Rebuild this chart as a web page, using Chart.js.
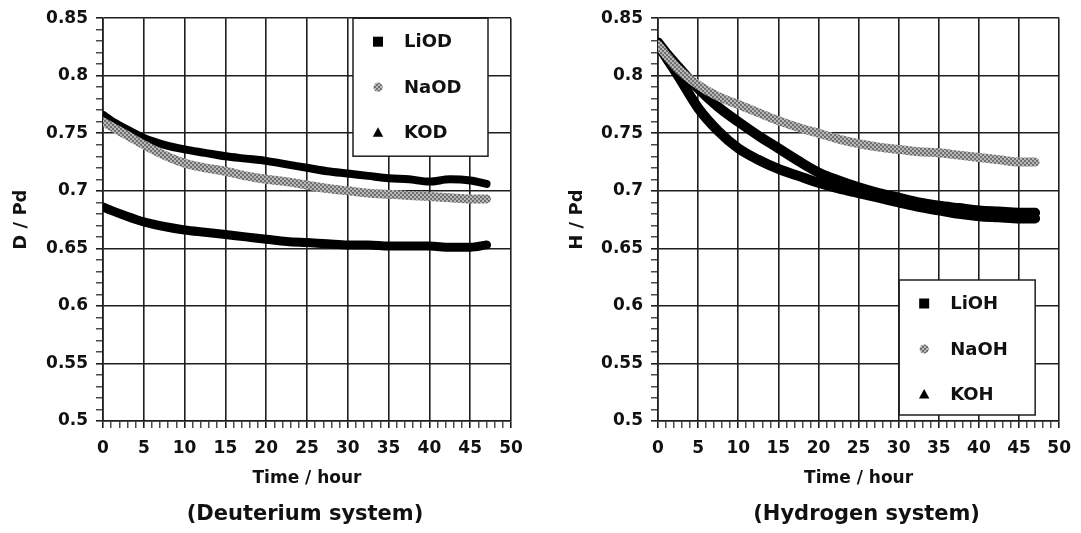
<!DOCTYPE html>
<html>
<head>
<meta charset="utf-8">
<script src="https://cdn.jsdelivr.net/npm/chart.js@4.4.1/dist/chart.umd.min.js"></script>
<style>
  html, body { margin: 0; padding: 0; background: #fff; }
  #wrap { position: relative; width: 1081px; height: 533px; }
  #left { position: absolute; left: 0; top: 0; }
  #right { position: absolute; left: 540px; top: 0; }
</style>
</head>
<body>
<div id="wrap">
  <canvas id="left" width="540" height="533"></canvas>
  <canvas id="right" width="541" height="533"></canvas>
</div>
<script>
// time axis (hours) shared by the read-off points
const timeD = [0, 1, 2.5, 5, 7.5, 10, 12.5, 15, 17.5, 20, 22.5, 25, 27.5, 30, 32.5, 35, 37.5, 40, 42.5, 45, 47];
const timeH = [0, 1, 2.5, 5, 7.5, 10, 12.5, 15, 17.5, 20, 22.5, 25, 27.5, 30, 32.5, 35, 37.5, 40, 42.5, 45, 47];

// Deuterium system, D/Pd
const liod = [0.686, 0.683, 0.679, 0.673, 0.669, 0.666, 0.664, 0.662, 0.660, 0.658, 0.656, 0.655, 0.654, 0.653, 0.653, 0.652, 0.652, 0.652, 0.651, 0.651, 0.653];
const naod = [0.760, 0.756, 0.750, 0.740, 0.731, 0.724, 0.720, 0.717, 0.713, 0.710, 0.708, 0.705, 0.702, 0.700, 0.698, 0.697, 0.696, 0.695, 0.694, 0.693, 0.693];
const kod  = [0.766, 0.761, 0.755, 0.746, 0.740, 0.736, 0.733, 0.730, 0.728, 0.726, 0.723, 0.720, 0.717, 0.715, 0.713, 0.711, 0.710, 0.708, 0.710, 0.709, 0.706];

// Hydrogen system, H/Pd
const lioh = [0.829, 0.820, 0.808, 0.789, 0.773, 0.760, 0.748, 0.737, 0.726, 0.716, 0.709, 0.703, 0.698, 0.694, 0.690, 0.687, 0.685, 0.683, 0.682, 0.681, 0.681];
const naoh = [0.827, 0.818, 0.806, 0.792, 0.782, 0.775, 0.768, 0.761, 0.755, 0.750, 0.745, 0.741, 0.738, 0.736, 0.734, 0.733, 0.731, 0.729, 0.727, 0.725, 0.725];
const koh  = [0.827, 0.816, 0.800, 0.772, 0.752, 0.737, 0.727, 0.719, 0.713, 0.707, 0.702, 0.698, 0.694, 0.690, 0.686, 0.683, 0.680, 0.678, 0.677, 0.676, 0.676];

const ink = '#1e1e1e';
const fam = '"DejaVu Sans", sans-serif';
Chart.defaults.font.family = fam;

// grey speckled fill like the scanned NaOD / NaOH marks
function greyTexture() {
  const c = document.createElement('canvas');
  c.width = 4; c.height = 4;
  const g = c.getContext('2d');
  g.fillStyle = '#b8b8b8'; g.fillRect(0, 0, 4, 4);
  g.fillStyle = '#707070';
  g.fillRect(0, 0, 2, 2); g.fillRect(2, 2, 2, 2);
  return g.createPattern(c, 'repeat');
}
const grey = greyTexture();

const pts = (t, v) => t.map((x, i) => ({ x, y: v[i] }));

function series(label, t, v, color, width, marker, order) {
  return {
    label, data: pts(t, v), marker, markerColor: color, order,
    showLine: true, borderColor: color, borderWidth: width,
    borderCapStyle: 'round', borderJoinStyle: 'round',
    cubicInterpolationMode: 'monotone', pointRadius: 0, pointHoverRadius: 0
  };
}

function drawMarker(ctx, kind, color, x, y) {
  ctx.fillStyle = color;
  ctx.beginPath();
  if (kind === 'rect') ctx.rect(x - 5, y - 5, 10, 10);
  else if (kind === 'circle') ctx.arc(x, y, 4.6, 0, Math.PI * 2);
  else { ctx.moveTo(x, y - 5.5); ctx.lineTo(x + 5.2, y + 4); ctx.lineTo(x - 5.2, y + 4); ctx.closePath(); }
  ctx.fill();
}

// framed legend sitting inside the plot
const boxLegend = {
  id: 'boxLegend',
  afterDatasetsDraw(chart, args, o) {
    const { ctx, chartArea: a } = chart;
    const x = a.right - o.right - o.width;
    const y = o.top != null ? a.top + o.top : a.bottom - o.bottom - o.height;
    ctx.save();
    ctx.fillStyle = '#fff';
    ctx.fillRect(x, y, o.width, o.height);
    ctx.lineWidth = 1.5;
    ctx.strokeStyle = ink;
    ctx.strokeRect(x, y, o.width, o.height);
    ctx.font = 'bold 18px ' + fam;
    ctx.textBaseline = 'middle';
    chart.data.datasets.forEach((ds, i) => {
      const cy = y + 23.5 + i * 45.5;
      drawMarker(ctx, ds.marker, ds.markerColor, x + 25, cy);
      ctx.fillStyle = '#111';
      ctx.fillText(ds.label, x + 51, cy + 1);
    });
    ctx.restore();
  }
};

// caption centred under the plot area
const caption = {
  id: 'caption',
  afterDraw(chart, args, o) {
    const { ctx, chartArea: a } = chart;
    ctx.save();
    ctx.font = 'bold 21px ' + fam;
    ctx.fillStyle = '#111';
    ctx.textAlign = 'center';
    ctx.textBaseline = 'middle';
    ctx.fillText(o.text, (a.left + a.right) / 2 + o.dx, chart.height - o.bottom);
    ctx.restore();
  }
};

function makeOptions(yTitle, yTitlePad, yWidth, captionText, captionDx, padRight, legendBox) {
  const major = c => c.tick && Math.round(c.tick.value * 100) % 5 === 0;
  return {
    responsive: false,
    animation: false,
    events: [],
    layout: { padding: { top: 17, right: padRight, left: 0, bottom: 44 } },
    scales: {
      x: {
        type: 'linear', min: 0, max: 50,
        ticks: {
          stepSize: 1, maxTicksLimit: 100, autoSkip: false, maxRotation: 0, padding: 10,
          color: '#111', font: { size: 17, weight: 'bold' },
          callback: v => v % 5 === 0 ? String(v) : ''
        },
        grid: {
          color: c => c.tick && c.tick.value % 5 === 0 ? ink : 'rgba(0,0,0,0)',
          lineWidth: 1.6, tickLength: 7, tickColor: ink,
          tickWidth: c => c.tick && c.tick.value % 5 === 0 ? 1.6 : 1.2
        },
        border: { color: ink, width: 1.6 },
        title: { display: true, text: 'Time / hour', color: '#111', font: { size: 17, weight: 'bold' }, padding: { top: 0, bottom: 0 } },
        afterFit: s => { s.height = 68; }
      },
      y: {
        type: 'linear', min: 0.5, max: 0.85,
        ticks: {
          stepSize: 0.01, maxTicksLimit: 100, autoSkip: false, padding: 8,
          color: '#111', font: { size: 17, weight: 'bold' },
          callback: v => Math.round(v * 100) % 5 === 0 ? String(Number(v.toFixed(2))) : ''
        },
        grid: {
          color: c => major(c) ? ink : 'rgba(0,0,0,0)',
          lineWidth: 1.6, tickLength: 7, tickColor: ink,
          tickWidth: c => major(c) ? 1.6 : 1.2
        },
        border: { color: ink, width: 1.6 },
        title: { display: true, text: yTitle, color: '#111', font: { size: 18, weight: 'bold' }, padding: { top: yTitlePad, bottom: 0 } },
        afterFit: s => { s.width = yWidth; }
      }
    },
    plugins: {
      legend: { display: false },
      tooltip: { enabled: false },
      title: { display: false },
      caption: { text: captionText, dx: captionDx, bottom: 18 },
      boxLegend: legendBox
    }
  };
}

new Chart(document.getElementById('left'), {
  type: 'scatter',
  data: {
    datasets: [
      series('LiOD', timeD, liod, '#000', 9, 'rect', 1),
      series('NaOD', timeD, naod, grey, 9, 'circle', 0),
      series('KOD', timeD, kod, '#000', 8, 'triangle', 1)
    ]
  },
  options: makeOptions('D / Pd', 11, 103, '(Deuterium system)', -2, 29,
    { right: 23, top: 0, width: 135, height: 138 }),
  plugins: [boxLegend, caption]
});

new Chart(document.getElementById('right'), {
  type: 'scatter',
  data: {
    datasets: [
      series('LiOH', timeH, lioh, '#000', 10, 'rect', 1),
      series('NaOH', timeH, naoh, grey, 9, 'circle', 0),
      series('KOH', timeH, koh, '#000', 10, 'triangle', 1)
    ]
  },
  options: makeOptions('H / Pd', 27, 118, '(Hydrogen system)', 8, 15,
    { right: 24, bottom: 6, width: 136, height: 135 }),
  plugins: [boxLegend, caption]
});
</script>
</body>
</html>
